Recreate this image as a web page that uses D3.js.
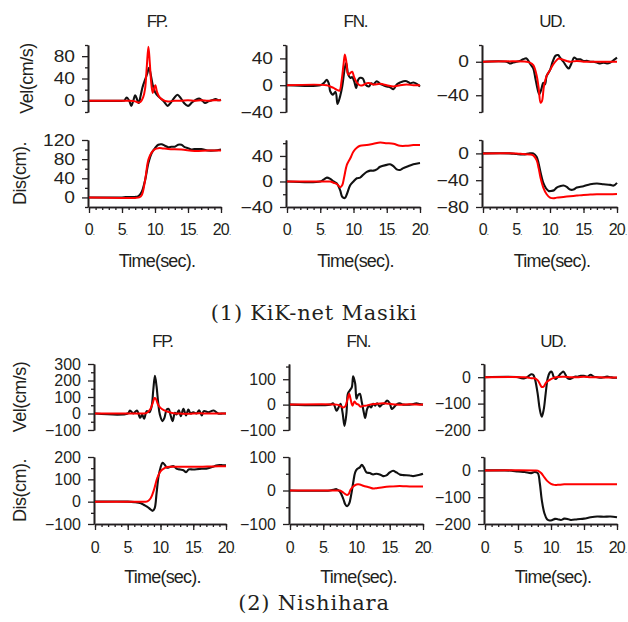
<!DOCTYPE html>
<html>
<head>
<meta charset="utf-8">
<script src="https://cdn.jsdelivr.net/npm/d3@7"></script>
<style>
  html, body { margin: 0; padding: 0; background: #fff; }
  svg { display: block; }
  text { fill: #231f20; }
</style>
</head>
<body>
<script>
// ---- labels ----
const componentTitles = ["FP.", "FN.", "UD."];
const stationCaptions = ["(1) KiK-net Masiki", "(2) Nishihara"];
const timeTickValues = [0, 5, 10, 15, 20];
const timeMinorTicks = d3.range(0, 21, 1);
const velTitle = "Vel(cm/s)";
const disTitle = "Dis(cm).";
const timeTitle = "Time(sec).";

// ---- y-axis domains and labelled ticks ----
const masikiVelFP_domain = [-20, 100], masikiVelFP_ticks = [0, 40, 80];
const masikiDisFP_domain = [-20, 120], masikiDisFP_ticks = [0, 40, 80, 120];
const masikiVelFN_domain = [-40, 60],  masikiVelFN_ticks = [-40, 0, 40];
const masikiDisFN_domain = [-40, 65],  masikiDisFN_ticks = [-40, 0, 40];
const masikiVelUD_domain = [-60, 20],  masikiVelUD_ticks = [-40, 0];
const masikiDisUD_domain = [-80, 20],  masikiDisUD_ticks = [-80, -40, 0];
const nishiVelFP_domain = [-100, 300], nishiVelFP_ticks = [-100, 0, 100, 200, 300];
const nishiDisFP_domain = [-100, 200], nishiDisFP_ticks = [-100, 0, 100, 200];
const nishiVelFN_domain = [-100, 160], nishiVelFN_ticks = [-100, 0, 100];
const nishiDisFN_domain = [-100, 100], nishiDisFN_ticks = [-100, 0, 100];
const nishiVelUD_domain = [-200, 50],  nishiVelUD_ticks = [-200, -100, 0];
const nishiDisUD_domain = [-200, 50],  nishiDisUD_ticks = [-200, -100, 0];

// ---- records: [time (s), value]; obs = black, syn = red ----
const masikiVelFP_obs = [[0,0],[4,0],[5,0],[5.4,1],[5.7,6],[6.1,0],[6.4,-9],[6.7,0],[7,10],[7.3,2],[7.55,-4],[7.8,8],[8.1,24],[8.5,38],[8.8,48],[9.1,59],[9.4,44],[9.7,26],[10,16],[10.5,8],[11,3],[11.4,-2],[11.9,-9],[12.4,-3],[12.9,5],[13.4,11],[13.9,5],[14.4,-4],[15,-9],[15.6,-3],[16.2,2],[16.7,4],[17.2,0],[17.6,-4],[18.1,-1],[18.6,1],[19.2,3],[19.6,1],[20,2]];
const masikiVelFP_syn = [[0,0],[5,0],[6,0],[7,-1],[7.4,-3],[7.8,-2],[8.2,6],[8.5,22],[8.75,60],[9,97],[9.2,70],[9.4,36],[9.65,14],[9.85,22],[10.05,28],[10.3,16],[10.6,8],[11,3],[11.5,0],[12,-1],[13,0],[14,0],[15,1],[16,0],[17,1],[18,0],[19,1],[20,1]];
const masikiDisFP_obs = [[0,0],[5,0],[6,1],[7,1],[7.5,3],[8,12],[8.5,36],[9,72],[9.5,93],[10,103],[10.5,110],[11,111],[11.5,108],[12,105],[12.5,106],[13,106],[13.5,110],[14,110],[14.5,105],[15,103],[15.5,100],[16,101],[17,101],[18,98],[19,98],[20,100]];
const masikiDisFP_syn = [[0,0],[5,-1],[7,-1],[7.6,0],[8,5],[8.5,36],[9,79],[9.5,94],[10,101],[10.5,103],[11,103],[12,101],[14,100],[16,97],[18,98],[20,98]];
const masikiVelFN_obs = [[0,0],[5,0],[5.5,3],[6,8],[6.3,2],[6.5,-9],[6.9,-14],[7.3,-10],[7.6,-28],[8,-16],[8.3,-2],[8.7,26],[8.9,33],[9.2,16],[9.5,11],[9.8,12],[10.1,6],[10.4,-4],[10.7,8],[11,11],[11.4,10],[11.8,1],[12.3,-2],[12.7,3],[13,1],[13.5,6],[14,2],[14.5,0],[15,-2],[15.5,-3],[16,-6],[16.5,1],[17,4],[17.5,6],[18,6],[18.5,3],[19,4],[19.5,2],[20,-2]];
const masikiVelFN_syn = [[0,0],[6,0],[6.5,-2],[7,-4],[7.5,-7],[7.9,-8],[8.2,6],[8.5,31],[8.7,46],[8.95,33],[9.2,16],[9.5,18],[9.8,20],[10.1,12],[10.5,4],[10.9,0],[11.4,0],[12,3],[12.5,3],[13,1],[14,2],[15,0],[16,-2],[17,0],[18,1],[19,0],[20,0]];
const masikiDisFN_obs = [[0,0],[5,0],[5.5,3],[6,6],[6.5,4],[7,0],[7.5,-3],[8,-14],[8.3,-24],[8.7,-26],[9,-20],[9.5,-6],[10,0],[10.5,5],[11,6],[11.5,11],[12,15],[12.5,17],[13,17],[13.5,19],[14,23],[15,26],[15.5,27],[16,24],[16.5,19],[17,18],[17.5,21],[18,23],[19,27],[20,29]];
const masikiDisFN_syn = [[0,0],[6,0],[6.5,0],[7,-2],[7.5,-4],[8,-9],[8.3,-6],[8.6,7],[9,26],[9.5,36],[10,47],[10.5,53],[11,56],[12,57],[13,59],[14,61],[15,60],[16,59],[17,56],[18,56],[19,57],[20,57]];
const masikiVelUD_obs = [[0,0],[3.5,0],[4,-2],[4.5,-1],[5,0],[5.5,1],[6,3],[6.5,4],[7,-2],[7.5,-8],[7.8,-19],[8.1,-31],[8.4,-39],[8.7,-33],[9,-25],[9.25,-27],[9.5,-17],[10,-10],[10.4,0],[10.8,7],[11.2,8],[11.5,5],[12,0],[12.5,-6],[12.8,-8],[13.2,-2],[13.6,5],[14,3],[14.5,3],[15,1],[15.5,1],[16,0],[16.5,0],[17,-1],[17.5,-2],[18,-1],[18.5,-2],[19,-1],[19.5,2],[20,5]];
const masikiVelUD_syn = [[0,0],[6.5,0],[7,-1],[7.5,-4],[8,-16],[8.3,-31],[8.6,-49],[8.8,-47],[9.1,-29],[9.5,-17],[10,-10],[10.5,-3],[11,2],[11.3,4],[11.7,3],[12.5,1],[13,0],[14,1],[15,0],[16,0],[17,0],[18,0],[19,0],[20,0]];
const masikiDisUD_obs = [[0,0],[4,0],[5,-1],[6,-1.5],[7,0],[7.5,0],[8,-5],[8.3,-15],[8.6,-29],[9,-44],[9.4,-52],[9.8,-56],[10.2,-56],[10.6,-55],[11,-51],[11.5,-49],[12,-48],[12.5,-50],[13,-54],[13.5,-54],[14,-51],[15,-49],[16,-46],[17,-45],[18,-46],[19,-47],[19.5,-48],[20,-44]];
const masikiDisUD_syn = [[0,0],[5,0],[6,-1],[7,-1.5],[7.5,-3],[8,-10],[8.3,-22],[8.6,-37],[9,-51],[9.5,-61],[10,-66],[10.5,-67],[11,-66],[12,-65],[13,-64],[14,-63],[15,-62],[16,-61.5],[17,-61],[18,-61],[20,-60.5]];

const nishiVelFP_obs = [[0,0],[5,0],[5.34,18],[5.85,0],[6.4,18],[6.9,-26],[7.2,-6],[7.5,-32],[7.9,14],[8.3,8],[8.65,44],[8.9,144],[9.15,228],[9.4,164],[9.65,64],[9.9,-6],[10.3,-46],[10.6,-26],[10.95,24],[11.25,28],[11.55,-12],[11.85,-46],[12.2,4],[12.45,-6],[12.8,20],[13.1,-16],[13.5,28],[13.9,-12],[14.25,24],[14.6,0],[15,8],[15.5,0],[15.9,20],[16.3,-12],[16.6,14],[17.3,8],[18.1,18],[18.8,0],[19.5,0],[20,0]];
const nishiVelFP_syn = [[0,0],[7,0],[7.5,0],[8,6],[8.5,30],[8.8,62],[9.1,94],[9.3,88],[9.6,56],[10,34],[10.5,20],[11,12],[11.5,6],[12,2],[13,0],[14,-2],[15,0],[16,1],[17,0],[18,0],[19,0],[20,0]];
const nishiDisFP_obs = [[0,0],[5,0],[6,-2],[7,-7],[7.5,-15],[8,-23],[8.5,-35],[8.8,-41],[9.1,-30],[9.4,38],[9.7,114],[10,152],[10.3,174],[10.6,167],[11,152],[11.5,156],[12,159],[12.5,147],[13,144],[13.5,141],[13.9,132],[14.3,144],[15,144],[16,147],[17,148],[18,156],[18.5,162],[19,164],[19.5,163],[20,163]];
const nishiDisFP_syn = [[0,0],[7.5,0],[8,1],[8.5,15],[9,53],[9.5,106],[10,136],[10.5,148],[11,155],[12,156],[14,156],[16,156],[18,158],[20,159]];
const nishiVelFN_obs = [[0,0],[6,0],[6.5,5],[7,-24],[7.3,-11],[7.6,3],[7.9,-31],[8.2,-84],[8.5,-31],[8.7,43],[9,56],[9.3,69],[9.5,112],[9.8,83],[10,23],[10.2,36],[10.5,43],[10.8,9],[11.1,-31],[11.3,-53],[11.6,-17],[11.9,-4],[12.2,-11],[12.5,3],[12.8,-4],[13.1,5],[13.5,-8],[13.8,0],[14.2,5],[14.6,16],[15,5],[15.3,-17],[15.6,-11],[16,0],[16.5,5],[17,0],[18,0],[18.5,2],[19,5],[19.5,2],[20,0]];
const nishiVelFN_syn = [[0,0],[7,0],[7.5,-4],[8,-11],[8.3,-7],[8.6,16],[8.9,43],[9.1,23],[9.4,-4],[9.7,12],[10,3],[10.3,0],[10.6,-8],[11,-5],[11.5,-4],[12,0],[13,3],[14,5],[15,3],[16,0],[17,0],[18,1],[19,0],[20,0]];
const nishiDisFN_obs = [[0,0],[6,0],[6.5,2],[7,4],[7.5,-3],[8,-24],[8.3,-41],[8.6,-47],[8.9,-39],[9.2,-13],[9.5,23],[9.8,54],[10.1,64],[10.5,69],[10.8,77],[11.1,69],[11.5,54],[12,52],[12.5,48],[13,50],[13.5,48],[14,43],[14.5,45],[15,54],[15.5,59],[16,54],[16.5,48],[17,46],[18,45],[18.5,43],[19,45],[19.5,47],[20,50]];
const nishiDisFN_syn = [[0,0],[7,0],[7.5,0],[8,-6],[8.5,-13],[8.8,-11],[9.1,2],[9.5,12],[10,18],[10.5,18],[11,14],[12,9],[12.5,6],[13,7],[14,10],[15,12],[16,13],[17,13],[18,12],[19,12],[20,12]];
const nishiVelUD_obs = [[0,0],[5,0],[5.5,-4],[6,-4],[6.5,2],[7,11],[7.3,9],[7.6,-10],[8,-66],[8.3,-122],[8.6,-150],[8.9,-122],[9.2,-60],[9.5,-4],[9.8,17],[10.1,21],[10.4,2],[10.7,-7],[11,0],[11.3,9],[11.6,17],[11.9,21],[12.2,9],[12.5,-4],[12.9,-7],[13.2,-3],[13.6,2],[14,2],[14.5,5],[15,5],[15.5,2],[16,9],[16.5,2],[17,0],[17.5,-2],[18,0],[18.5,2],[19,0],[19.5,-2],[20,-2]];
const nishiVelUD_syn = [[0,0],[6,0],[6.5,-1],[7,-4],[7.5,-4],[8,-12],[8.3,-25],[8.6,-37],[8.9,-35],[9.2,-22],[9.5,-15],[10,-7],[10.5,-2],[11,1],[12,2],[13,0],[14,0],[15,2],[16,0],[17,0],[18,-1],[19,-1],[20,-1]];
const nishiDisUD_obs = [[0,0],[3,0],[4,-1],[5,-4],[6,-6],[7,-10],[7.5,-6],[8,-10],[8.3,-47],[8.6,-110],[9,-160],[9.4,-182],[9.8,-187],[10.2,-185],[10.6,-181],[11,-182],[11.5,-185],[12,-180],[12.5,-181],[13,-185],[14,-182],[15,-180],[16,-175],[17,-172],[18,-173],[19,-172],[20,-175]];
const nishiDisUD_syn = [[0,0],[7.5,0],[8,-1],[8.5,-10],[9,-26],[9.5,-41],[10,-50],[10.5,-54],[11,-54],[12,-52],[14,-52],[16,-52],[18,-52],[20,-52]];

// ---- page layout ----
const W = 628, H = 622;
const sans = "'Liberation Sans', Arial, sans-serif";
const serif = "'DejaVu Serif', 'Liberation Serif', serif";
const svg = d3.select("body").append("svg").attr("width", W).attr("height", H)
  .style("font-family", sans);

// one block per station: column x-extents, panel y-extents, text positions
const blocks = [
  { cols: [[89, 221], [287, 420], [483, 617]], vel: [45, 112], dis: [140, 207],
    titleY: 27, timeLabelY: 235, timeTitleY: 267, captionY: 320, tickScale: 1.2,
    velTitleX: 33, disTitleX: 26,
    series: [
      { vel: [masikiVelFP_obs, masikiVelFP_syn, masikiVelFP_domain, masikiVelFP_ticks, 20],
        dis: [masikiDisFP_obs, masikiDisFP_syn, masikiDisFP_domain, masikiDisFP_ticks, 20] },
      { vel: [masikiVelFN_obs, masikiVelFN_syn, masikiVelFN_domain, masikiVelFN_ticks, 20],
        dis: [masikiDisFN_obs, masikiDisFN_syn, masikiDisFN_domain, masikiDisFN_ticks, 20] },
      { vel: [masikiVelUD_obs, masikiVelUD_syn, masikiVelUD_domain, masikiVelUD_ticks, 20],
        dis: [masikiDisUD_obs, masikiDisUD_syn, masikiDisUD_domain, masikiDisUD_ticks, 20] }
    ] },
  { cols: [[95, 226], [290, 423], [485, 617]], vel: [364, 430], dis: [457, 524],
    titleY: 347, timeLabelY: 553, timeTitleY: 583, captionY: 610, tickScale: 1.0,
    velTitleX: 26, disTitleX: 26,
    series: [
      { vel: [nishiVelFP_obs, nishiVelFP_syn, nishiVelFP_domain, nishiVelFP_ticks, 50],
        dis: [nishiDisFP_obs, nishiDisFP_syn, nishiDisFP_domain, nishiDisFP_ticks, 50] },
      { vel: [nishiVelFN_obs, nishiVelFN_syn, nishiVelFN_domain, nishiVelFN_ticks, 50],
        dis: [nishiDisFN_obs, nishiDisFN_syn, nishiDisFN_domain, nishiDisFN_ticks, 50] },
      { vel: [nishiVelUD_obs, nishiVelUD_syn, nishiVelUD_domain, nishiVelUD_ticks, 50],
        dis: [nishiDisUD_obs, nishiDisUD_syn, nishiDisUD_domain, nishiDisUD_ticks, 50] }
    ] }
];

const ink = "#231f20";
const curve = d3.curveCatmullRom.alpha(0.5);

function styleAxis(g) {
  g.select(".domain").attr("stroke", ink).attr("stroke-width", 1.6);
  g.selectAll(".tick line").attr("stroke", ink).attr("stroke-width", 1.3);
}

function drawPanel(block, xr, yr, spec, withTimeAxis) {
  const [obs, syn, domain, ticks, minorStep] = spec;
  const x = d3.scaleLinear().domain([0, 20]).range(xr);
  const y = d3.scaleLinear().domain(domain).range([yr[1], yr[0]]);
  const g = svg.append("g");

  // minor y ticks
  const minor = d3.range(Math.ceil(domain[0] / minorStep) * minorStep, domain[1] + 0.001, minorStep)
    .filter(v => !ticks.includes(v));
  g.append("g").attr("transform", `translate(${xr[0] - 1},0)`)
    .call(d3.axisLeft(y).tickValues(minor).tickSize(3).tickSizeOuter(0).tickFormat(""))
    .call(styleAxis);
  // labelled y ticks
  const ya = g.append("g").attr("transform", `translate(${xr[0] - 1},0)`)
    .call(d3.axisLeft(y).tickValues(ticks).tickSize(6).tickSizeOuter(0).tickPadding(7))
    .call(styleAxis);
  ya.selectAll(".tick text")
    .style("font-family", sans).style("font-size", "16px").style("fill", ink)
    .each(function () {
      const t = d3.select(this);
      const tx = +t.attr("x");
      t.attr("transform", `translate(${tx},0) scale(${block.tickScale},1)`).attr("x", 0);
    });

  if (withTimeAxis) {
    g.append("g").attr("transform", `translate(0,${yr[1]})`)
      .call(d3.axisBottom(x).tickValues(timeMinorTicks).tickSize(3).tickSizeOuter(0).tickFormat(""))
      .call(styleAxis);
    const xa = g.append("g").attr("transform", `translate(0,${yr[1]})`)
      .call(d3.axisBottom(x).tickValues(timeTickValues).tickSize(6).tickSizeOuter(0).tickFormat(""))
      .call(styleAxis);
    xa.selectAll(".tick").append("text")
      .attr("y", block.timeLabelY - yr[1]).attr("text-anchor", "middle")
      .style("font-family", sans).style("font-size", "16px").style("fill", ink)
      .attr("letter-spacing", -0.8)
      .each(function (d) {
        const t = d3.select(this);
        t.text(d);
        t.append("tspan").style("font-size", "8px").text(".");
      });
    svg.append("text").attr("x", (xr[0] + xr[1]) / 2 + 2).attr("y", block.timeTitleY)
      .attr("text-anchor", "middle").style("font-size", "18px").attr("letter-spacing", -0.8)
      .text(timeTitle);
  }

  const line = d3.line().x(d => x(d[0])).y(d => y(d[1])).curve(curve);
  g.append("path").datum(obs).attr("d", line).attr("fill", "none")
    .attr("stroke", "#111").attr("stroke-width", 2.1).attr("stroke-linejoin", "round");
  g.append("path").datum(syn).attr("d", line).attr("fill", "none")
    .attr("stroke", "#ff0000").attr("stroke-width", 2).attr("stroke-linejoin", "round");
}

blocks.forEach((block, bi) => {
  block.series.forEach((s, ci) => {
    const xr = block.cols[ci];
    drawPanel(block, xr, block.vel, s.vel, false);
    drawPanel(block, xr, block.dis, s.dis, true);
    svg.append("text").attr("x", (xr[0] + xr[1]) / 2 + 2).attr("y", block.titleY)
      .attr("text-anchor", "middle").style("font-size", "17px").attr("letter-spacing", -1.2)
      .text(componentTitles[ci]);
  });
  // rotated axis titles
  const vc = (block.vel[0] + block.vel[1]) / 2;
  const dc = (block.dis[0] + block.dis[1]) / 2;
  svg.append("text").attr("transform", `translate(${block.velTitleX},${vc}) rotate(-90)`)
    .attr("text-anchor", "middle").style("font-size", "18px").attr("letter-spacing", -0.5).text(velTitle);
  svg.append("text").attr("transform", `translate(${block.disTitleX},${dc}) rotate(-90)`)
    .attr("text-anchor", "middle").style("font-size", "18px").attr("letter-spacing", -0.5).text(disTitle);
  // station caption
  svg.append("text").attr("x", 314).attr("y", block.captionY).attr("text-anchor", "middle")
    .style("font-family", serif).style("font-size", "21px").attr("letter-spacing", 0.8)
    .text(stationCaptions[bi]);
});
</script>
</body>
</html>
